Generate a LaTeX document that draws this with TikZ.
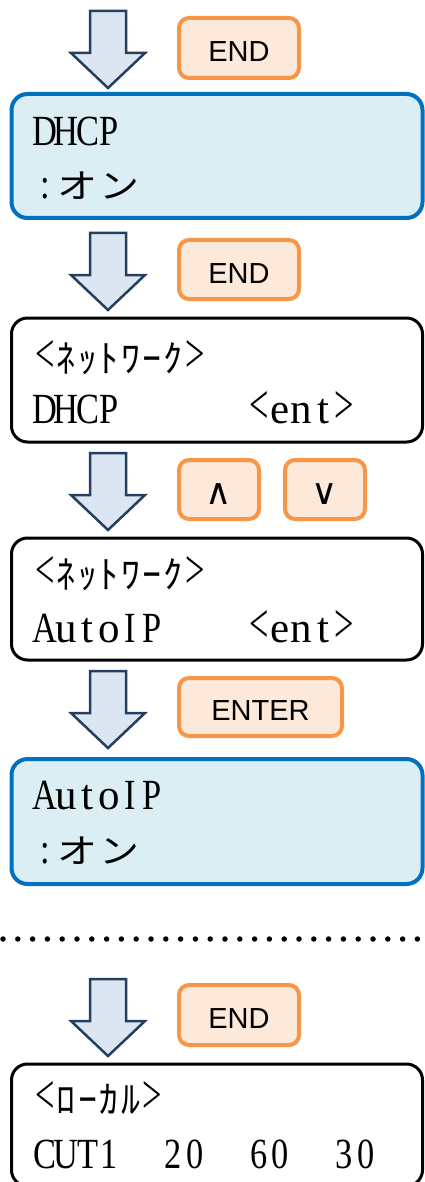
\documentclass[tikz,border=0pt]{standalone}
\usepackage{fontspec}
\usepackage{graphicx}
\setmainfont{Liberation Serif}
\newfontfamily\jpfont{Noto Sans CJK JP}
\newfontfamily\btnfont{Liberation Sans}
\newfontfamily\symfont{DejaVu Sans}
\newlength\cw \setlength\cw{21.4pt}
\def\lcdsx{0.8}
\def\lcdlx{1.0}
\def\lcd#1{\lcdloop#1\relax}
\def\lcdloop#1{\ifx#1\relax\else\lcdchar{#1}\expandafter\lcdloop\fi}
\def\lcdchar#1{%
  \ifx#1_\hspace*{\cw}%
  \else\ifx#1<\makebox[\cw][c]{\scalebox{0.8}[1.3]{<}}%
  \else\ifx#1>\makebox[\cw][c]{\scalebox{0.8}[1.3]{>}}%
  \else\ifnum\lccode`#1=`#1\relax\makebox[\cw][c]{\scalebox{\lcdlx}[1]{#1}}%
  \else\makebox[\cw][c]{\scalebox{\lcdsx}[1]{#1}}%
  \fi\fi\fi\fi}
\newcommand\kana[1]{{\jpfont\fontsize{38}{46}\selectfont\def\lcdsx{1}\def\lcdlx{1}\lcd{#1}}}
\newcommand\on{\lcd{:}{\jpfont\fontsize{40}{46}\selectfont\makebox[2\cw][c]{\scalebox{1}[0.85]{オ}}\makebox[2\cw][c]{\scalebox{1}[0.85]{ン}}}}
\definecolor{bluestroke}{HTML}{0070C0}
\definecolor{bluefill}{HTML}{DAEEF3}
\definecolor{orstroke}{HTML}{F79646}
\definecolor{orfill}{HTML}{FDE9D9}
\definecolor{arrstroke}{HTML}{243F60}
\definecolor{arrfill}{HTML}{DCE6F2}
\tikzset{
  lcdbox/.style={draw=black, line width=3pt, rounded corners=16pt, fill=white, inner sep=0pt},
  bluebox/.style={draw=bluestroke, fill=bluefill, line width=4pt, rounded corners=16pt, inner sep=0pt},
  keybtn/.style={draw=orstroke, fill=orfill, line width=4pt, rounded corners=10pt, inner sep=0pt,
    font=\btnfont\fontsize{29}{34}\selectfont, text height=27pt, text depth=0pt},
  symbtn/.style={keybtn, font=\symfont\fontsize{36}{40}\selectfont, text height=30pt},
  lcdline/.style={anchor=base west, inner sep=0pt, font=\fontsize{43}{50}\selectfont},
  arrowstyle/.style={draw=arrstroke, fill=arrfill, line width=2.5pt, line join=miter},
  downarrow/.pic={\draw[arrowstyle] (-18,0) -- (18,0) -- (18,42) -- (37,42) -- (0,77) -- (-37,42) -- (-18,42) -- cycle;},
  sepline/.style={line width=5.5pt, line cap=round, dash pattern=on 0pt off 14.8pt}
}
\begin{document}
\begin{tikzpicture}[x=1pt,y=-1pt]
\useasboundingbox (0,0) rectangle (425,1182);
% step 1
\pic at (108,11) {downarrow};
\node[keybtn, minimum width=120pt, minimum height=60pt] (k1) at (239,48) {END};
\node[bluebox, minimum width=411pt, minimum height=124pt] (b1) at (217,156) {};
\node[lcdline] (t1a) at (34,146) {\lcd{DHCP}};
\node[lcdline] (t1b) at (34,199) {\on};
% step 2
\pic at (108,233) {downarrow};
\node[keybtn, minimum width=120pt, minimum height=59pt] (k2) at (239,269.5) {END};
\node[lcdbox, minimum width=411pt, minimum height=124pt] (b2) at (217,380) {};
\node[lcdline] (t2a) at (34,372) {\lcd{<}\kana{ﾈｯﾄﾜｰｸ}\lcd{>}};
\node[lcdline] (t2b) at (34,423) {\lcd{DHCP______<ent>}};
% step 3
\pic at (108,453) {downarrow};
\node[symbtn, minimum width=80pt, minimum height=59pt] (k3) at (219,489.5) {∧};
\node[symbtn, minimum width=80pt, minimum height=59pt] (k4) at (325,489.5) {∨};
\node[lcdbox, minimum width=411pt, minimum height=122pt] (b3) at (217,599) {};
\node[lcdline] (t3a) at (34,588) {\lcd{<}\kana{ﾈｯﾄﾜｰｸ}\lcd{>}};
\node[lcdline] (t3b) at (34,642) {\lcd{AutoIP____<ent>}};
% step 4
\pic at (108,671) {downarrow};
\node[keybtn, minimum width=163pt, minimum height=58pt] (k5) at (260.5,707) {ENTER};
\node[bluebox, minimum width=411pt, minimum height=125pt] (b4) at (217,821.5) {};
\node[lcdline] (t4a) at (34,809) {\lcd{AutoIP}};
\node[lcdline] (t4b) at (34,863) {\on};
% separator
\coordinate (s1) at (3,939);
\coordinate (s2) at (425,939);
\draw[sepline] (s1) -- (s2);
% step 5
\pic at (108,979) {downarrow};
\node[keybtn, minimum width=120pt, minimum height=60pt] (k6) at (239,1015) {END};
\node[lcdbox, minimum width=411pt, minimum height=122pt] (b5) at (217,1125) {};
\node[lcdline] (t5a) at (34,1113) {\lcd{<}\kana{ﾛｰｶﾙ}\lcd{>}};
\node[lcdline] (t5b) at (34,1168) {\lcd{CUT1__20__60__30}};
\end{tikzpicture}
\end{document}
